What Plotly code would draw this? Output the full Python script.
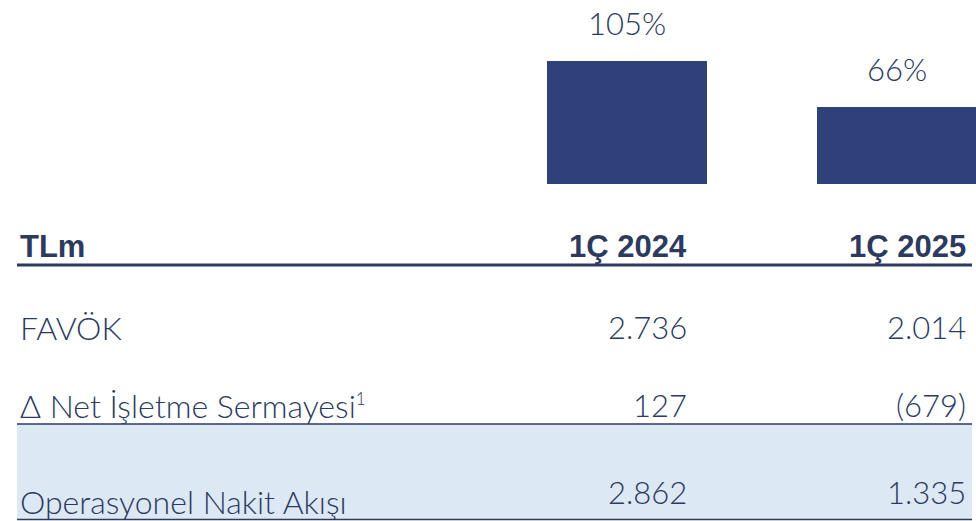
import plotly.graph_objects as go

# data
periods = ["1Ç 2024", "1Ç 2025"]
conversion = [105, 66]          # cash conversion, %
conversion_text = ["105%", "66%"]

header_label = "TLm"
row_labels = ["FAVÖK", "Δ Net İşletme Sermayesi<sup><span style='font-size:17px'>1</span></sup>",
              "Operasyonel Nakit Akışı"]
col_2024 = ["2.736", "127", "2.862"]
col_2025 = ["2.014", "(679)", "1.335"]

W, H = 976, 521
NAVY = "#2E4279"
TEXT = "#2B3A5E"
SHADE = "#DDE8F5"
FONT = "Lato, 'Noto Sans', 'DejaVu Sans', sans-serif"
BOLD = "'Liberation Sans', Arial, sans-serif"


def py(px_from_top):
    # convert pixel row (from top) to paper fraction
    return 1 - px_from_top / H


fig = go.Figure()
fig.add_trace(go.Bar(x=periods, y=conversion, marker=dict(color=NAVY, line=dict(width=0)),
                     width=0.593, showlegend=False, hoverinfo="skip"))

# percentage labels above the bars
for p, v, t in zip(periods, conversion, conversion_text):
    fig.add_annotation(x=p, y=v, xref="x", yref="y", text=t, showarrow=False,
                       yanchor="bottom", yshift=17, font=dict(size=31, color=TEXT, family=FONT, weight=300))

# table: header
hdr_y = py(246)
fig.add_annotation(x=18 / W, y=hdr_y, xref="paper", yref="paper", text="<b>%s</b>" % header_label,
                   showarrow=False, xanchor="left", yanchor="middle",
                   font=dict(size=31, color=TEXT, family=BOLD))
for p, xr in zip(periods, [689, 968]):
    fig.add_annotation(x=xr / W, y=hdr_y, xref="paper", yref="paper", text="<b>%s</b>" % p,
                       showarrow=False, xanchor="right", yanchor="middle",
                       font=dict(size=31, color=TEXT, family=BOLD))

# shaded total row and rules
fig.add_shape(type="rect", xref="paper", yref="paper", x0=17 / W, x1=972 / W, y0=py(520), y1=py(424),
              fillcolor=SHADE, line=dict(width=0), layer="below")
fig.add_shape(type="line", xref="paper", yref="paper", x0=17 / W, x1=972 / W, y0=py(265), y1=py(265),
              line=dict(color=TEXT, width=3))
fig.add_shape(type="line", xref="paper", yref="paper", x0=17 / W, x1=972 / W, y0=py(424), y1=py(424),
              line=dict(color=TEXT, width=1.5))
fig.add_shape(type="line", xref="paper", yref="paper", x0=17 / W, x1=972 / W, y0=py(519.5), y1=py(519.5),
              line=dict(color=TEXT, width=1.5))

# table rows
label_y = [327, 405, 501]
value_y = [327, 405, 492]
for lab, a, b, ly, vy in zip(row_labels, col_2024, col_2025, label_y, value_y):
    fig.add_annotation(x=18 / W, y=py(ly), xref="paper", yref="paper", text=lab, showarrow=False,
                       xanchor="left", yanchor="middle", font=dict(size=32, color=TEXT, family=FONT, weight=300))
    fig.add_annotation(x=689 / W, y=py(vy), xref="paper", yref="paper", text=a, showarrow=False,
                       xanchor="right", yanchor="middle", font=dict(size=31, color=TEXT, family=FONT, weight=300))
    fig.add_annotation(x=968 / W, y=py(vy), xref="paper", yref="paper", text=b, showarrow=False,
                       xanchor="right", yanchor="middle", font=dict(size=31, color=TEXT, family=FONT, weight=300))

fig.update_layout(
    width=W, height=H, margin=dict(l=0, r=0, t=0, b=0),
    paper_bgcolor="white", plot_bgcolor="white",
    xaxis=dict(type="category", range=[-2.322, 1.2926], domain=[0, 1], visible=False, fixedrange=True),
    yaxis=dict(range=[0, 105 * 184 / 123], domain=[(H - 184) / H, 1], visible=False, fixedrange=True),
    bargap=0,
)

fig.write_html("out.html", config={"displayModeBar": False},
               post_script="document.body.style.margin='0';document.body.style.overflow='hidden';")
